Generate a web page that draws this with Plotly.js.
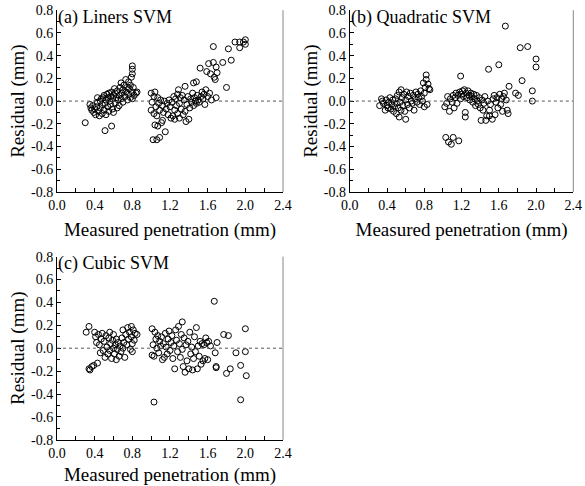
<!DOCTYPE html>
<html><head><meta charset="utf-8">
<script src="https://cdn.plot.ly/plotly-3.0.1.min.js"></script>
<style>html,body{margin:0;padding:0;background:#fff}#chart{width:585px;height:486px}</style>
</head><body><div id="chart"></div>
<script>
const xTickVals = [0.0, 0.4, 0.8, 1.2, 1.6, 2.0, 2.4];
const yTickVals = [-0.8, -0.6, -0.4, -0.2, 0.0, 0.2, 0.4, 0.6, 0.8];
const panelLabels = ["(a) Liners SVM", "(b) Quadratic SVM", "(c) Cubic SVM"];
const xTitle = "Measured penetration (mm)";
const yTitle = "Residual (mm)";

const aX = [0.30,0.35,0.36,0.37,0.38,0.39,0.40,0.41,0.42,0.43,0.43,0.44,0.45,0.46,0.46,0.47,0.48,0.48,0.49,0.50,0.50,0.51,0.51,0.52,0.52,0.53,0.54,0.54,0.55,0.55,0.56,0.57,0.57,0.58,0.58,0.59,0.59,0.60,0.60,0.61,0.62,0.62,0.63,0.64,0.64,0.65,0.66,0.66,0.67,0.68,0.68,0.69,0.70,0.70,0.71,0.72,0.73,0.73,0.74,0.75,0.76,0.76,0.77,0.78,0.78,0.79,0.80,0.80,0.80,0.80,0.80,0.81,0.82,0.84,0.85,
1.00,1.00,1.01,1.02,1.03,1.03,1.04,1.04,1.05,1.06,1.06,1.07,1.07,1.08,1.09,1.09,1.10,1.11,1.12,1.12,1.13,1.14,1.15,1.16,1.17,1.18,1.19,1.20,1.21,1.22,1.23,1.24,1.25,1.25,1.26,1.27,1.28,1.28,1.29,1.30,1.30,1.31,1.32,1.33,1.34,1.35,1.36,1.36,1.37,1.38,1.39,1.40,1.41,1.42,1.43,1.44,1.45,1.45,1.46,1.47,1.48,1.48,1.49,1.50,1.51,1.52,1.53,1.54,1.55,1.56,1.57,1.58,1.59,1.60,1.61,1.62,1.63,1.64,1.66,1.66,1.67,1.68,1.69,1.69,1.70,
1.76,1.80,1.82,1.85,1.89,1.94,1.94,2.00,2.00,1.98];
const aY = [-0.19,-0.03,-0.06,-0.08,-0.04,-0.10,-0.07,-0.12,-0.05,-0.01,0.03,-0.09,-0.13,-0.06,0.00,0.02,-0.11,-0.03,0.03,-0.08,0.05,-0.26,-0.02,0.01,-0.12,0.06,-0.05,0.03,-0.09,0.07,0.00,-0.03,0.04,-0.22,0.08,-0.07,0.02,0.05,-0.10,0.11,-0.02,0.07,0.03,-0.06,0.09,0.01,0.05,-0.04,0.12,0.16,0.02,0.07,-0.01,0.10,0.14,0.04,0.19,0.08,0.12,0.01,0.17,0.06,0.11,0.03,0.14,0.21,0.24,0.28,0.31,0.08,0.02,0.12,0.05,0.07,0.08,
0.07,-0.08,-0.01,-0.34,0.04,-0.11,0.08,-0.21,-0.05,-0.34,-0.13,-0.22,0.03,-0.02,-0.32,-0.08,0.01,-0.19,-0.17,-0.04,-0.10,0.00,-0.27,-0.07,-0.02,-0.12,0.01,-0.05,-0.15,-0.01,-0.13,0.04,-0.08,-0.16,0.02,-0.04,0.06,-0.11,0.10,-0.02,-0.15,0.03,-0.07,0.05,-0.12,0.01,0.13,-0.09,-0.18,-0.03,0.04,-0.16,-0.06,0.02,-0.01,0.07,0.16,-0.04,0.03,0.00,0.17,-0.02,0.05,0.01,-0.01,0.29,0.04,0.08,0.02,0.06,-0.03,0.10,0.26,0.04,0.33,0.07,0.24,0.01,0.34,0.48,0.21,0.19,0.30,0.03,0.25,
0.34,0.12,0.46,0.36,0.52,0.52,0.47,0.54,0.50,0.52];

const bX = [0.32,0.34,0.35,0.36,0.38,0.39,0.40,0.41,0.42,0.43,0.44,0.45,0.46,0.47,0.48,0.49,0.50,0.50,0.51,0.52,0.53,0.53,0.54,0.55,0.55,0.56,0.57,0.58,0.59,0.60,0.60,0.61,0.62,0.63,0.64,0.65,0.66,0.67,0.68,0.69,0.70,0.71,0.72,0.73,0.74,0.75,0.76,0.77,0.78,0.79,0.80,0.80,0.81,0.82,0.82,0.83,0.84,0.85,0.86,
1.02,1.03,1.04,1.05,1.06,1.07,1.08,1.09,1.10,1.11,1.11,1.12,1.13,1.14,1.15,1.16,1.17,1.18,1.19,1.19,1.20,1.21,1.22,1.23,1.24,1.24,1.25,1.26,1.27,1.28,1.29,1.30,1.31,1.32,1.33,1.34,1.35,1.36,1.37,1.38,1.39,1.40,1.41,1.42,1.43,1.44,1.45,1.46,1.47,1.48,1.49,1.50,1.50,1.51,1.53,1.54,1.55,1.56,1.57,1.58,1.59,1.60,1.61,1.62,1.63,1.64,1.65,1.66,1.67,1.68,1.69,1.70,1.71,
1.78,1.81,1.83,1.85,1.91,1.96,1.96,2.00,2.00];
const bY = [-0.04,0.02,0.00,-0.02,-0.08,0.01,-0.04,-0.06,-0.01,0.03,-0.07,-0.03,0.01,-0.09,-0.05,0.02,-0.11,-0.02,0.05,-0.06,-0.14,0.08,-0.01,0.10,-0.08,0.03,-0.04,0.06,-0.09,-0.16,0.01,0.08,-0.03,0.04,-0.06,0.07,0.00,-0.02,0.05,-0.08,0.02,0.08,-0.01,0.06,0.03,-0.03,0.09,0.04,0.00,0.16,-0.05,0.07,0.12,0.23,0.19,-0.03,0.15,0.11,0.10,
-0.05,-0.32,-0.02,0.04,-0.36,-0.09,0.02,-0.38,-0.01,-0.32,0.05,-0.06,0.03,0.07,-0.02,0.05,-0.35,0.08,0.22,0.02,0.06,0.09,0.04,0.10,-0.14,-0.10,0.07,0.03,0.09,0.05,0.01,0.07,0.04,-0.01,0.06,0.02,-0.04,0.05,0.00,-0.03,0.03,-0.06,-0.17,0.01,-0.08,-0.02,0.04,-0.17,-0.13,0.00,0.28,-0.08,-0.13,-0.03,-0.16,0.02,0.05,-0.12,-0.01,0.03,-0.06,0.32,0.06,-0.03,0.02,-0.09,0.04,0.07,0.66,0.01,-0.08,-0.11,0.13,
0.07,0.05,0.47,0.18,0.48,0.09,0.00,0.37,0.30];

const cX = [0.31,0.34,0.34,0.35,0.37,0.39,0.40,0.41,0.42,0.43,0.44,0.45,0.46,0.47,0.48,0.49,0.50,0.51,0.52,0.53,0.54,0.55,0.56,0.56,0.57,0.58,0.59,0.60,0.60,0.61,0.62,0.63,0.63,0.64,0.65,0.66,0.67,0.68,0.69,0.70,0.70,0.71,0.72,0.73,0.74,0.75,0.76,0.77,0.78,0.79,0.79,0.80,0.80,0.81,0.82,0.83,0.85,
1.01,1.01,1.02,1.03,1.04,1.05,1.06,1.07,1.08,1.09,1.03,1.10,1.11,1.12,1.13,1.14,1.15,1.16,1.17,1.18,1.19,1.20,1.21,1.22,1.23,1.24,1.25,1.26,1.27,1.28,1.29,1.30,1.31,1.32,1.33,1.33,1.34,1.35,1.36,1.37,1.38,1.39,1.40,1.41,1.42,1.43,1.44,1.45,1.46,1.47,1.48,1.49,1.50,1.51,1.52,1.53,1.54,1.55,1.56,1.57,1.58,1.59,1.60,1.61,1.63,1.67,1.68,1.69,1.69,1.70,
1.77,1.80,1.82,1.84,1.90,1.95,1.95,2.00,2.00,2.01];
const cY = [0.14,0.19,-0.18,-0.19,-0.16,-0.15,0.14,0.10,0.05,-0.13,0.12,0.03,-0.04,0.08,0.13,-0.02,0.06,-0.08,0.11,0.01,-0.05,0.09,0.14,-0.02,0.04,-0.09,0.07,0.00,0.12,-0.05,0.03,-0.10,0.08,-0.01,0.05,-0.07,0.02,-0.03,0.09,0.00,0.16,0.05,-0.08,0.12,0.03,0.18,0.08,0.14,-0.01,0.19,0.10,0.04,-0.03,0.16,0.07,0.13,0.12,
0.17,-0.06,0.03,-0.07,0.14,0.08,0.00,0.11,-0.04,0.06,-0.47,0.02,0.10,-0.10,0.04,-0.08,0.13,0.01,-0.05,0.08,0.15,-0.02,0.05,0.11,-0.09,0.02,-0.18,0.16,0.07,-0.03,0.19,0.04,-0.08,0.12,0.23,-0.01,-0.16,0.09,-0.21,0.03,-0.11,0.06,-0.18,0.14,-0.05,0.01,-0.19,-0.09,0.10,-0.03,0.18,-0.18,0.02,-0.07,0.06,-0.14,0.04,-0.11,0.03,-0.09,0.09,0.05,-0.10,0.06,0.02,0.41,-0.04,-0.16,-0.17,0.05,
0.12,-0.22,0.11,-0.18,-0.04,-0.15,-0.45,0.17,-0.03,-0.24];

const FONT = "Liberation Serif";
const marker = {symbol: "circle-open", size: 6, color: "#000", line: {width: 1, color: "#000"}};
function tr(x, y, xa, ya) {
  return {type: "scatter", mode: "markers", x: x, y: y, xaxis: xa, yaxis: ya, marker: marker, hoverinfo: "skip", showlegend: false, cliponaxis: false};
}
const data = [tr(aX, aY, "x", "y"), tr(bX, bY, "x2", "y2"), tr(cX, cY, "x3", "y3")];

function xax(domain, anchor) {
  return {domain: domain, anchor: anchor, range: [0, 2.4], tickmode: "array", tickvals: xTickVals, ticktext: xTickVals.map(function(v){return v.toFixed(1);}),
    ticks: "inside", ticklen: 4, tickcolor: "#000", tickwidth: 1, ticklabeloverflow: "allow",
    minor: {dtick: 0.2, tick0: 0, ticks: "inside", ticklen: 4, tickcolor: "#000"},
    showline: true, linecolor: "#000", linewidth: 1, showgrid: false, zeroline: false,
    tickfont: {family: FONT, size: 14, color: "#000"},
    title: {text: xTitle, font: {family: FONT, size: 19, color: "#000"}, standoff: 10}};
}
function yax(domain, anchor) {
  return {domain: domain, anchor: anchor, range: [-0.8, 0.8], tickmode: "array", tickvals: yTickVals, ticktext: yTickVals.map(function(v){return v.toFixed(1);}),
    ticks: "inside", ticklen: 4, tickcolor: "#000", tickwidth: 1, ticklabeloverflow: "allow",
    minor: {dtick: 0.1, tick0: 0, ticks: "inside", ticklen: 3, tickcolor: "#000"},
    showline: true, linecolor: "#000", linewidth: 1, showgrid: false, zeroline: false,
    tickfont: {family: FONT, size: 14, color: "#000"},
    title: {text: yTitle, font: {family: FONT, size: 19, color: "#000"}, standoff: 1}};
}
const dTop = [0.605, 0.979], dBot = [0.095, 0.472];
const dL = [0.0974, 0.4838], dR = [0.598, 0.980];
const shapes = [];
const annotations = [];
[["x","y"],["x2","y2"],["x3","y3"]].forEach(function(p, i) {
  shapes.push({type: "line", xref: p[0] + " domain", yref: p[1], x0: 0, x1: 1, y0: 0, y1: 0, line: {color: "#555", width: 1, dash: "dot"}});
  shapes.push({type: "line", xref: p[0] + " domain", yref: p[1] + " domain", x0: 1, x1: 1, y0: 0, y1: 1, line: {color: "#888", width: 1}});
  annotations.push({xref: p[0] + " domain", yref: p[1] + " domain", x: -0.005, y: 1.03, xanchor: "left", yanchor: "top", showarrow: false,
    text: panelLabels[i], font: {family: FONT, size: 18, color: "#000"}});
});
const layout = {
  width: 585, height: 486, margin: {l: 0, r: 0, t: 0, b: 0},
  font: {family: FONT, color: "#000"},
  paper_bgcolor: "#fff", plot_bgcolor: "#fff",
  xaxis: xax(dL, "y"), yaxis: yax(dTop, "x"),
  xaxis2: xax(dR, "y2"), yaxis2: yax(dTop, "x2"),
  xaxis3: xax(dL, "y3"), yaxis3: yax(dBot, "x3"),
  shapes: shapes, annotations: annotations, showlegend: false
};
Plotly.newPlot("chart", data, layout, {staticPlot: true});
</script></body></html>
